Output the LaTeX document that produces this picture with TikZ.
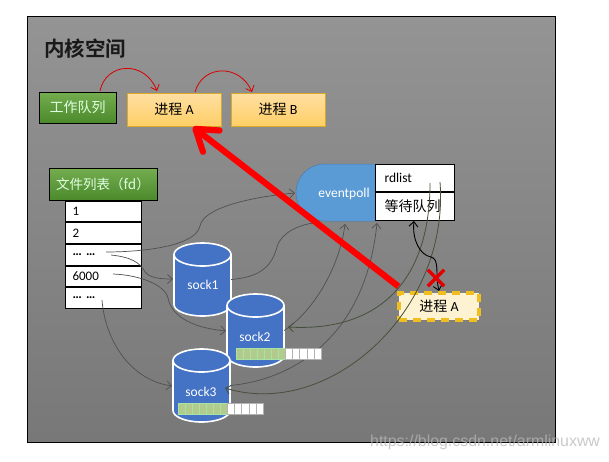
\documentclass[tikz,border=0pt]{standalone}
\usepackage{fontspec}
\setmainfont{Carlito}
\newfontfamily\cjk{Noto Sans CJK SC}
\newfontfamily\cjkb{Noto Sans CJK SC Bold}
\newfontfamily\wmfont{Liberation Sans}
\usetikzlibrary{shapes.misc,arrows.meta}
\definecolor{grtop}{HTML}{74AD50}
\definecolor{grbot}{HTML}{4B8A2C}
\definecolor{ortop}{HTML}{FFE0A3}
\definecolor{orbot}{HTML}{FFCF66}
\definecolor{orline}{HTML}{D9A92E}
\definecolor{blueA}{HTML}{5B9BD5}
\definecolor{blueB}{HTML}{4472C4}
\definecolor{curveg}{HTML}{505050}
\definecolor{curved}{HTML}{46503A}
\definecolor{dashy}{HTML}{F0BE1E}
\definecolor{paleY}{HTML}{FDF2D2}
\tikzset{
  x=1pt,y=-1pt,
  frame/.style={draw=black,line width=1pt,top color=black!42,bottom color=black!53},
  greenbox/.style={draw=black,line width=.8pt,top color=grtop,bottom color=grbot,text=white!88!green,inner sep=0pt,font=\cjk\fontsize{14}{16}\selectfont},
  procbox/.style={draw=orline,line width=.8pt,top color=ortop,bottom color=orbot,minimum width=94pt,minimum height=33pt,inner sep=0pt,font=\fontsize{14}{16}\selectfont},
  row/.style={draw=black,fill=white,line width=.9pt,minimum width=76pt,minimum height=20.7pt,inner sep=0pt,text width=61pt,align=left,font=\fontsize{13}{15}\selectfont},
  rdbox/.style={draw=black,fill=white,line width=.9pt,minimum width=79pt,inner sep=0pt,text width=60pt,align=left},
  sockbase/.style={minimum width=57pt,minimum height=73pt,inner sep=0pt},
  cylline/.style={draw=white,line width=1.6pt,fill=blueB},
  socklabel/.style={text=white,font=\fontsize{13.5}{15}\selectfont},
  cell/.style={draw=#1,line width=.5pt,minimum width=7.08pt,minimum height=11pt,inner sep=0pt},
  greencell/.style={cell=black!30!green!35!white,fill=green!30!black!35!white!85!yellow},
  whitecell/.style={cell=black!30,fill=white},
  gline/.style={draw=curveg,line width=.7pt},
  dline/.style={draw=curved,line width=.8pt},
  barb/.style={-{Straight Barb[length=5pt,width=9pt]}},
  redarc/.style={draw=red!85!black,line width=.8pt,-{Straight Barb[length=5pt,width=9pt]}},
}
\newcommand{\zh}[1]{{\cjk #1}}
\newcommand{\cylbody}[1]{%
  \begin{scope}[shift={(#1.center)}]
  \draw[cylline] (-28.5,-25) .. controls (-28.5,-31.35) and (-15.74,-36.5) .. (0,-36.5) .. controls (15.74,-36.5) and (28.5,-31.35) .. (28.5,-25) -- (28.5,25) .. controls (28.5,31.35) and (15.74,36.5) .. (0,36.5) .. controls (-15.74,36.5) and (-28.5,31.35) .. (-28.5,25) -- cycle;
  \draw[cylline,fill=none] (-28.5,-25) .. controls (-28.5,-18.65) and (-15.74,-13.5) .. (0,-13.5) .. controls (15.74,-13.5) and (28.5,-18.65) .. (28.5,-25);
  \end{scope}}
\begin{document}
\begin{tikzpicture}
\useasboundingbox (0,0) rectangle (609,461);
\fill[white] (0,0) rectangle (609,461);
\node[frame,rectangle,inner sep=0pt,minimum width=528pt,minimum height=426pt] (bg) at (291,229) {};
\node[anchor=west,inner sep=0pt,font=\cjkb\fontsize{20.5}{24}\selectfont,text=black!90] (title) at (44,49) {内核空间};

\node[greenbox,minimum width=77pt,minimum height=31pt] (wq) at (77.5,107.5) {工作队列};
\node[procbox] (pa) at (174,109.5) {\zh{进程} A};
\node[procbox] (pb) at (278,109.5) {\zh{进程} B};

\node[greenbox,minimum width=108pt,minimum height=32pt,font=\cjk\fontsize{13.5}{16}\selectfont] (fl) at (103,184) {文件列表（fd）};
\node[row] (r1) at (103,211.5) {1};
\node[row,anchor=north] (r2) at (r1.south) {2};
\node[row,anchor=north] (r3) at (r2.south) {\textbf{… …}};
\node[row,anchor=north] (r4) at (r3.south) {6000};
\node[row,anchor=north] (r5) at (r4.south) {\textbf{… …}};

\node[rounded rectangle,rounded rectangle east arc=none,fill=blueA,draw=blueA!80!black,line width=.5pt,minimum width=79pt,minimum height=57pt,inner sep=0pt] (ep) at (335.5,192.5) {};
\node[text=white,font=\fontsize{13.5}{15}\selectfont] (eptext) at (344,194) {eventpoll};
\node[rdbox,minimum height=27.5pt,font=\fontsize{13.5}{15}\selectfont] (rd) at (414.5,178) {rdlist};
\node[rdbox,anchor=north,minimum height=27.5pt,font=\cjk\fontsize{14}{16}\selectfont] (wait) at (rd.south) {等待队列};

\node[sockbase] (s1) at (202.5,279.5) {};
\node[sockbase] (s2) at (255.5,330.5) {};
\node[sockbase] (s3) at (201.5,385.5) {};
\cylbody{s1}
\cylbody{s2}
\cylbody{s3}
\node[socklabel] (s1t) at (203,285) {sock1};
\node[socklabel] (s2t) at (255,337) {sock2};
\node[socklabel] (s3t) at (201,392) {sock3};

\node[draw=dashy,fill=paleY,line width=3.2pt,dash pattern=on 8pt off 6pt,minimum width=80pt,minimum height=27pt,inner sep=0pt,font=\fontsize{14}{16}\selectfont] (pa2) at (439,306.5) {\zh{进程} A};

% start / end points of the connectors
\coordinate (c3a) at (106,252);
\coordinate (c3b) at (111,255);
\coordinate (c4) at (113,274);
\coordinate (c5) at (102,300);
\coordinate (rl1) at (430,183);
\coordinate (rl2) at (440,182);
\coordinate (e1) at (313,223);
\coordinate (e2) at (345,224);
\coordinate (e3) at (377,223);
\coordinate (t2) at (288,327);
\coordinate (t3) at (225,388);
\coordinate (w1) at (414,221);
\coordinate (w2) at (439,291);
\coordinate (wq0) at (100,91);
\coordinate (pa0) at (157,91);
\coordinate (pa1) at (195,92);
\coordinate (pb0) at (252,92);
\coordinate (redtip) at (193,127);

% grey connectors
\draw[gline,barb] (c3a) .. controls (135,252) and (195,248) .. (200,226) .. controls (203,208) and (250,197) .. (295,193);
\draw[gline,barb] (c3b) .. controls (130,257) and (140,262) .. (145,272) .. controls (150,278) and (160,279) .. (173,279);
\draw[gline,barb] (c4) .. controls (140,275) and (165,285) .. (168,298) .. controls (172,318) and (195,328) .. (226,331);
\draw[gline,barb] (c5) .. controls (105,340) and (130,380) .. (172,386);
\draw[gline] (s1.east) .. controls (262,277) and (272,265) .. (277,247) .. controls (281,232) and (300,225) .. (e1);
\draw[gline,barb] (s2.east) .. controls (315,310) and (340,265) .. (e2);
\draw[gline,barb] (s3.east) .. controls (290,380) and (365,340) .. (e3);
% dark connectors
\draw[dline,barb] (rl1) .. controls (430,285) and (375,332) .. (t2);
\draw[dline,barb] (rl2) .. controls (450,310) and (330,420) .. (t3);

% fill bars
\foreach \i in {0,...,6}{
  \node[greencell] (ba\i) at (239.5+7.08*\i,353.5) {};
  \node[greencell] (bb\i) at (181.5+7.08*\i,408.5) {};
}
\foreach \i in {7,...,11}{
  \node[whitecell] (ba\i) at (239.5+7.08*\i,353.5) {};
  \node[whitecell] (bb\i) at (181.5+7.08*\i,408.5) {};
}

% black wavy double arrow
\draw[draw=black,line width=.9pt,{Straight Barb[length=5pt,width=9pt]}-{Straight Barb[length=5pt,width=9pt]}] (w1) .. controls (412,240) and (420,255) .. (431,257) .. controls (440,259) and (435,275) .. (w2);
\node[cross out,draw=red!90!black,line width=3.4pt,minimum size=13pt,inner sep=0pt] (xm) at (436,278) {};

% red arcs
\draw[redarc] (wq0) .. controls (106,62) and (145,60) .. (pa0);
\draw[redarc] (pa1) .. controls (203,64) and (240,64) .. (pb0);

% red arrow
\draw[draw=red,line width=6.2pt,-{Straight Barb[length=20pt,width=27pt,round]}] (pa2.north west) ++(1,-5) -- (redtip);

% watermark
\node[anchor=west,inner sep=0pt,text=black!28,opacity=.75,font=\wmfont\fontsize{15.9}{18}\selectfont] (wm) at (370,442) {https://blog.csdn.net/armlinuxww};
\end{tikzpicture}
\end{document}
